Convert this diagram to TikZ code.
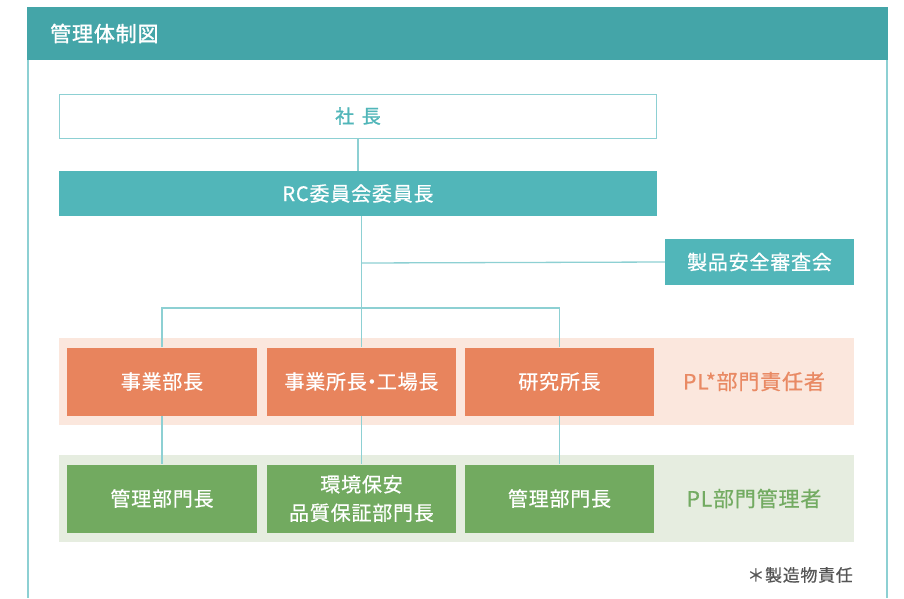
\documentclass[tikz,border=0pt]{standalone}
\usepackage{fontspec}
\newfontfamily\jp[LetterSpace=4,FakeBold=0.6]{Noto Sans CJK JP}
\newfontfamily\jpb[LetterSpace=4,FakeBold=1.4]{Noto Sans CJK JP}
\definecolor{hdr}{HTML}{44A5A8}
\definecolor{rcc}{HTML}{51B6B9}
\definecolor{lnc}{HTML}{8DD0D3}
\definecolor{orc}{HTML}{E8845D}
\definecolor{orb}{HTML}{FBE7DD}
\definecolor{ort}{HTML}{E98A64}
\definecolor{grc}{HTML}{72AA60}
\definecolor{grb}{HTML}{E6EDE0}
\definecolor{grt}{HTML}{73AB62}
\definecolor{ftc}{HTML}{555555}
\tikzset{
  conn/.style={draw=lnc, line width=1.3pt},
  txt/.style={font=\jp\fontsize{20}{28.5}\selectfont, align=center, inner sep=0pt},
  orbox/.style={txt, fill=orc, text=white, minimum width=189.5pt, minimum height=68pt},
  grbox/.style={txt, fill=grc, text=white, minimum width=189.5pt, minimum height=68pt},
  sidelabel/.style={txt, font=\jp\fontsize{21}{22}\selectfont},
}
\begin{document}
\begin{tikzpicture}[x=1pt,y=-1pt]
\useasboundingbox (0,0) rectangle (904,598);
% frame
\fill[hdr] (27,7) rectangle (888,60);
\node[txt, text=white, anchor=west, font=\jpb\fontsize{21}{22}\selectfont] (title) at (50,33.5) {管理体制図};
\draw[lnc, line width=1.5pt] (28,60) -- (28,598);
\draw[lnc, line width=1.5pt] (887,60) -- (887,598);
% bands
\fill[orb] (59,338) rectangle (854,425);
\fill[grb] (59,455) rectangle (854,542);
% top nodes
\node[txt, draw=lnc, line width=1pt, text=rcc, minimum width=597pt, minimum height=44pt, font=\jpb\fontsize{19}{22}\selectfont] (shacho) at (358,116) {社\hspace{0.4em}長};
\node[txt, fill=rcc, text=white, minimum width=598pt, minimum height=45.5pt] (rc) at (358,193.5) {RC委員会委員長};
\node[txt, fill=rcc, text=white, minimum width=189pt, minimum height=46pt] (seihin) at (759.5,262) {製品安全審査会};
% orange row
\node[orbox] (a1) at (162,381.5) {事業部長};
\node[orbox] (a2) at (361.5,381.5) {事業所長\kern-0.25em・\kern-0.25em工場長};
\node[orbox] (a3) at (559.5,381.5) {研究所長};
\node[sidelabel, text=ort] (plr) at (754,381.5) {PL*部門責任者};
% green row
\node[grbox] (b1) at (162,498.5) {管理部門長};
\node[grbox] (b2) at (361.5,498.5) {環境保安\\品質保証部門長};
\node[grbox] (b3) at (559.5,498.5) {管理部門長};
\node[sidelabel, text=grt] (plm) at (754,498.5) {PL部門管理者};
% footnote
\node[txt, text=ftc, anchor=east, font=\jp\fontsize{17}{18}\selectfont] (note) at (853,575) {＊製造物責任};
% connectors
\coordinate (j1) at (361,263);
\coordinate (j2) at (361,308);
\draw[conn] (shacho.south) -- (rc.north);
\draw[conn] (rc.south -| a2.north) -- (a2.north);
\draw[conn] (j1) -- (seihin.west);
\draw[conn] (a1.north) |- (j2) -| (a3.north);
\draw[conn] (a1.south) -- (b1.north);
\draw[conn] (a2.south) -- (b2.north);
\draw[conn] (a3.south) -- (b3.north);
\end{tikzpicture}
\end{document}
